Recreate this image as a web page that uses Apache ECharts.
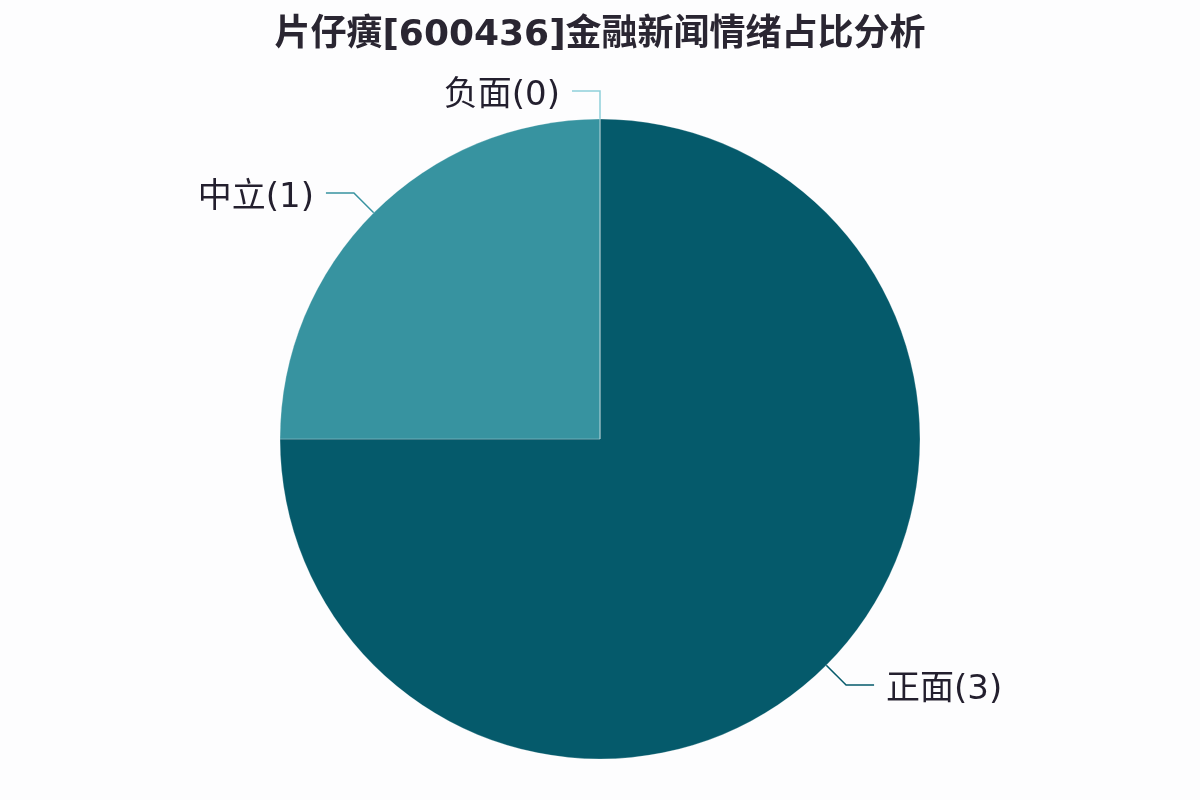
<!DOCTYPE html>
<html>
<head>
<meta charset="utf-8">
<script src="https://cdn.jsdelivr.net/npm/echarts@6/dist/echarts.min.js"></script>
<style>html,body{margin:0;padding:0;background:#fdfdfe;}#c{width:1200px;height:800px;}</style>
</head>
<body>
<div id="c"></div>
<script>
const titleText = '片仔癀[600436]金融新闻情绪占比分析';
const categories = ['正面', '中立', '负面'];
const values = [3, 1, 0];
const colors = ['#055a6b', '#3793a0', '#8fd0da'];

const chart = echarts.init(document.getElementById('c'));
chart.setOption({
  backgroundColor: '#fdfdfe',
  title: {
    text: titleText,
    left: 'center',
    top: 13,
    textStyle: {
      fontFamily: '"DejaVu Sans", "Noto Sans CJK SC"',
      fontSize: 36,
      fontWeight: 'bold',
      color: '#2a2632'
    }
  },
  series: [{
    type: 'pie',
    center: [600, 439],
    radius: 320,
    startAngle: 90,
    clockwise: true,
    avoidLabelOverlap: false,
    animation: false,
    data: categories.map((c, i) => ({
      name: c,
      value: values[i],
      itemStyle: { color: colors[i] }
    })),
    itemStyle: { borderColor: 'rgba(255,255,255,0.25)', borderWidth: 1 },
    label: {
      show: true,
      formatter: '{b}({c})',
      fontFamily: '"DejaVu Sans", "Noto Sans CJK SC"',
      fontSize: 34,
      color: '#231f2e',
      distanceToLabelLine: 12
    },
    labelLayout: { dy: 5 },
    labelLine: {
      show: true,
      length: 28,
      length2: 28,
      lineStyle: { width: 1.5 }
    }
  }]
});
</script>
</body>
</html>
